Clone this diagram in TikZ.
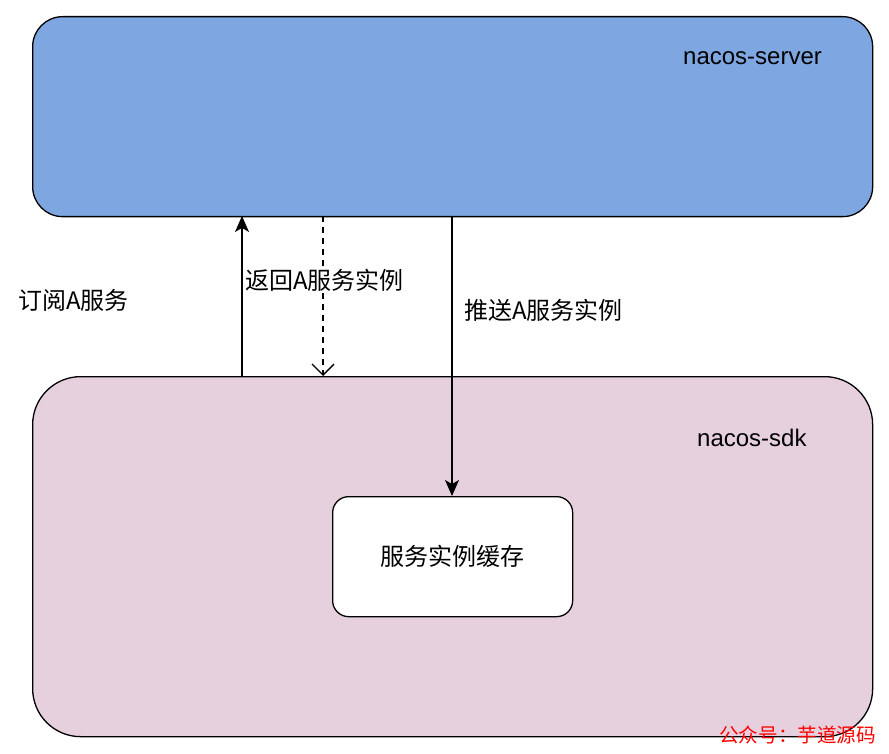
\documentclass[tikz,border=0pt]{standalone}
\usepackage{fontspec}
\setmainfont{Liberation Sans}
\newfontfamily\cjk{Noto Sans CJK SC}
\usetikzlibrary{arrows.meta}
\definecolor{serverblue}{HTML}{7EA6E0}
\definecolor{sdkpink}{HTML}{E6D0DE}
\tikzset{
  box/.style={draw=black, line width=1.3pt},
  lbl/.style={inner sep=0pt, font=\fontsize{24}{28}\selectfont},
  conn/.style={line width=1.3pt, arrows={-Stealth[length=16pt, width=14pt, inset=4pt]}},
  dconn/.style={line width=1.3pt, dash pattern=on 6pt off 5pt, arrows={-Straight Barb[length=11pt, width=22pt]}},
}
\begin{document}
\begin{tikzpicture}[x=1pt,y=-1pt]
\useasboundingbox (0,0) rectangle (889,754);
% boxes
\node[box, fill=serverblue, rounded corners=30pt, minimum width=840pt, minimum height=200pt, anchor=north west] (server) at (32,16) {};
\node[box, fill=sdkpink, rounded corners=48pt, minimum width=840pt, minimum height=360pt, anchor=north west] (sdk) at (32,376) {};
\node[box, fill=white, rounded corners=16pt, minimum width=240pt, minimum height=120pt, anchor=north west] (cache) at (332,496) {};
\node[lbl] (cachetxt) at (cache.center) {\cjk 服务实例缓存};
% titles
\node[lbl, anchor=west] (servertxt) at (683,58) {nacos-server};
\node[lbl, anchor=west] (sdktxt) at (697,438) {nacos-sdk};
% connector anchors
\coordinate (s1) at (242,216);
\coordinate (d1) at (242,376);
\coordinate (s2) at (323,216);
\coordinate (d2) at (323,376);
\coordinate (s3) at (452,216);
\draw[conn] (d1) -- (s1);
\draw[dconn] (s2) -- (d2);
\draw[conn] (s3) -- (s3 |- cache.north);
% labels
\node[lbl, anchor=west] (l1) at (18,300) {\cjk 订阅A服务};
\node[lbl, anchor=west, fill=white, inner sep=1pt] (l2) at (244,280) {\cjk 返回A服务实例};
\node[lbl, anchor=west] (l3) at (464,310) {\cjk 推送A服务实例};
% watermark
\node[inner sep=0pt, anchor=west, text=red, font=\fontsize{19.6}{22}\selectfont] (wm) at (719,735) {\cjk 公众号：芋道源码};
\end{tikzpicture}
\end{document}
